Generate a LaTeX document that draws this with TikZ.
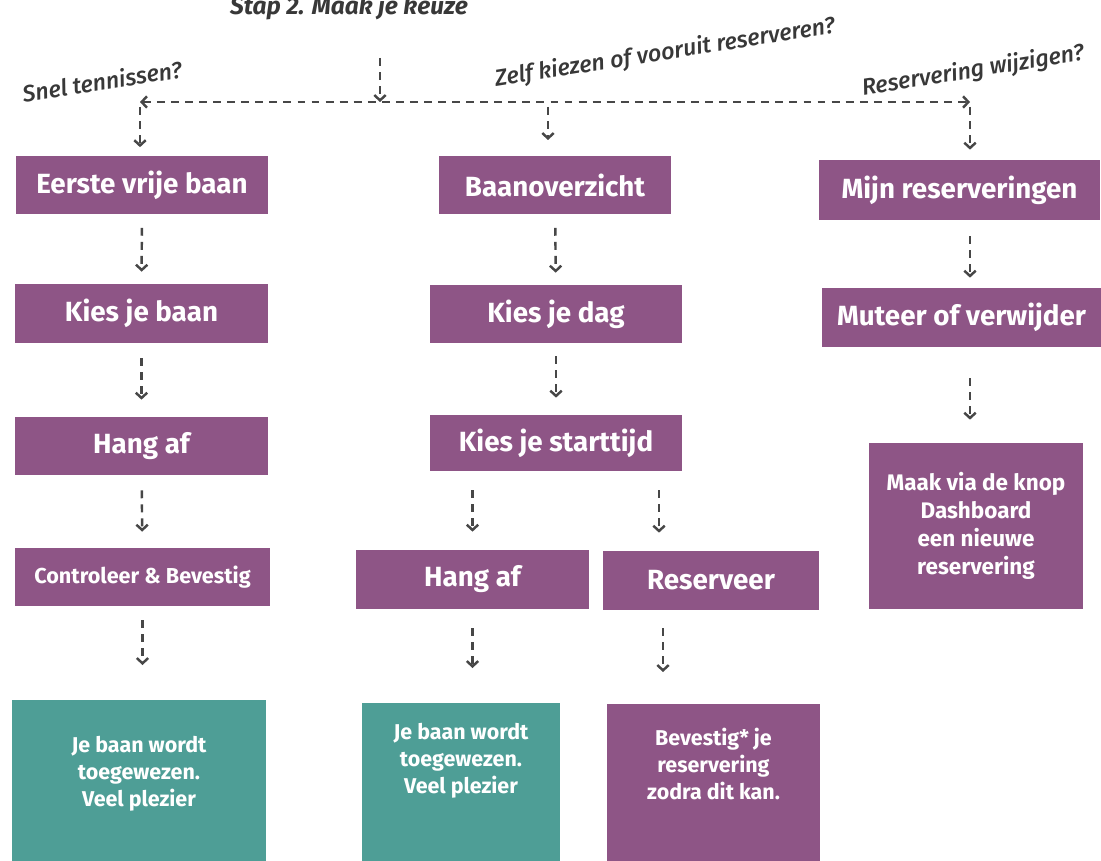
\documentclass[tikz,border=0pt]{standalone}
\usepackage{fontspec}
\setmainfont{Fira Sans}
\newfontfamily\vraagfont{Fira Sans Medium Italic}
\usetikzlibrary{arrows.meta}
\definecolor{paars}{HTML}{8E5586}
\definecolor{groen}{HTML}{4E9E96}
\definecolor{streep}{HTML}{474747}
\definecolor{vraag}{HTML}{383838}

\begin{document}
\begin{tikzpicture}[x=0.02cm, y=-0.02cm]
		\tikzset{blok/.style={fill=paars, text=white, inner sep=0pt, font=\bfseries\fontsize{15.8}{18}\selectfont},
			klein/.style={blok, font=\bfseries\fontsize{12.3}{14}\selectfont},
			vak/.style={inner sep=0pt, anchor=north},
			vaktekst/.style={text=white, align=center, inner sep=0pt, anchor=north, font=\bfseries\fontsize{12.2}{15.3}\selectfont},
			vraagtekst/.style={text=vraag, rotate=9, font=\vraagfont\fontsize{13.2}{15}\selectfont},
			pijl/.style={draw=streep, line width=1.4pt, dash pattern=on 4.5pt off 3.5pt, -{Straight Barb[length=3pt, width=6.5pt]}, shorten <=0.26cm, shorten >=0.24cm}};
		\useasboundingbox (0,0) rectangle (1101,861);

		\node[font=\bfseries\itshape\fontsize{13.9}{16}\selectfont, text=vraag] (kop) at (349, 7) {Stap 2. Maak je keuze};
		\node[vraagtekst] (snel) at (102, 81) {Snel tennissen?};
		\node[vraagtekst] (zelf) at (665, 53) {Zelf kiezen of vooruit reserveren?};
		\node[vraagtekst] (wijzig) at (973, 71) {Reservering wijzigen?};

		\coordinate (bron) at (380, 58);
		\coordinate (splits) at (380, 102);
		\coordinate (links) at (140, 102);
		\coordinate (rechts) at (970, 102);

		% linker kolom
		\node[blok, minimum width=5.06cm, minimum height=1.18cm] (eerste) at (142, 185) {Eerste vrije baan};
		\node[blok, minimum width=5.06cm, minimum height=1.18cm] (kiesbaan) at (141.5, 313.5) {Kies je baan};
		\node[blok, minimum width=5.06cm, minimum height=1.16cm] (hanga) at (141.5, 446) {Hang af};
		\node[klein, minimum width=5.1cm, minimum height=1.16cm] (controleer) at (142.5, 577) {Controleer \& Bevestig};
		\node[vak, fill=groen, minimum width=5.08cm, minimum height=3.6cm] (toegewezena) at (139, 700) {};
		\node[vaktekst] (tekst_a) at (139, 736) {Je baan wordt\\toegewezen.\\Veel plezier};

		% middelste kolom
		\node[blok, minimum width=4.64cm, minimum height=1.18cm] (overzicht) at (555, 185) {Baanoverzicht};
		\node[blok, minimum width=5.04cm, minimum height=1.16cm] (kiesdag) at (556, 314) {Kies je dag};
		\node[blok, minimum width=5.04cm, minimum height=1.12cm] (starttijd) at (556, 443) {Kies je starttijd};
		\node[blok, minimum width=4.66cm, minimum height=1.18cm] (hangb) at (472.5, 579.5) {Hang af};
		\node[blok, minimum width=4.32cm, minimum height=1.18cm] (reserveer) at (711, 580.5) {Reserveer};
		\node[vak, fill=groen, minimum width=3.96cm, minimum height=3.6cm] (toegewezenb) at (461, 703) {};
		\node[vaktekst] (tekst_b) at (461, 723) {Je baan wordt\\toegewezen.\\Veel plezier};
		\node[vak, fill=paars, minimum width=4.26cm, minimum height=3.6cm] (bevestig) at (713.5, 704) {};
		\node[vaktekst] (tekst_c) at (713.5, 728) {Bevestig* je\\reservering\\zodra dit kan.};

		% rechter kolom
		\node[blok, minimum width=5.62cm, minimum height=1.2cm] (mijn) at (959.5, 190) {Mijn reserveringen};
		\node[blok, minimum width=5.58cm, minimum height=1.18cm] (muteer) at (961.5, 317.5) {Muteer of verwijder};
		\node[blok, align=center, minimum width=4.28cm, minimum height=3.32cm, font=\bfseries\fontsize{12.8}{15.8}\selectfont] (maak) at (976, 526) {Maak via de knop\\Dashboard\\een nieuwe\\reservering};

		% pijlen bovenaan
		\draw[pijl, shorten <=0pt, shorten >=0pt] (bron) -- (splits);
		\draw[pijl, shorten <=0pt, shorten >=0pt, {Straight Barb[length=3pt, width=6.5pt]}-{Straight Barb[length=3pt, width=6.5pt]}] (links) -- (rechts);
		\draw[pijl, shorten <=0.1cm, shorten >=0.16cm] (links) -- (links |- eerste.north);
		\draw[pijl, shorten <=0.1cm, shorten >=0.16cm] (overzicht.north |- links) ++(-7, 0) -- ++(0, 46);
		\draw[pijl, shorten <=0.1cm, shorten >=0.2cm] (rechts) -- (rechts |- mijn.north);

		% pijlen links
		\draw[pijl] (eerste) -- (kiesbaan);
		\draw[pijl, shorten <=0.3cm, shorten >=0.34cm] (kiesbaan) -- (hanga);
		\draw[pijl, shorten <=0.3cm, shorten >=0.32cm] (hanga) -- (controleer);
		\draw[pijl, shorten <=0.28cm, shorten >=0.7cm] (controleer.south) -- (controleer.south |- toegewezena.north);

		% pijlen midden
		\draw[pijl] (overzicht) -- (kiesdag);
		\draw[pijl, shorten <=0.26cm, shorten >=0.34cm] (kiesdag.south) -- (kiesdag.south |- starttijd.north);
		\draw[pijl, shorten <=0.38cm, shorten >=0.36cm] (starttijd.south -| hangb.north) -- (hangb.north);
		\draw[pijl, shorten <=0.38cm, shorten >=0.36cm] ([xshift=-1.04cm]reserveer.north |- starttijd.south) -- ([xshift=-1.04cm]reserveer.north);
		\draw[pijl, shorten <=0.38cm, shorten >=0.7cm] (hangb.south) -- (hangb.south |- toegewezenb.north);
		\draw[pijl, shorten <=0.36cm, shorten >=0.64cm] ([xshift=-0.96cm]reserveer.south) -- ([xshift=-0.96cm]reserveer.south |- bevestig.north);

		% pijlen rechts
		\draw[pijl, shorten <=0.32cm, shorten >=0.2cm] ([xshift=0.21cm]mijn.south) -- ([xshift=0.21cm]mijn.south |- muteer.north);
		\draw[pijl, shorten <=0.62cm, shorten >=0.46cm] ([xshift=0.17cm]muteer.south) -- ([xshift=0.17cm]muteer.south |- maak.north);

	\end{tikzpicture}
\end{document}
